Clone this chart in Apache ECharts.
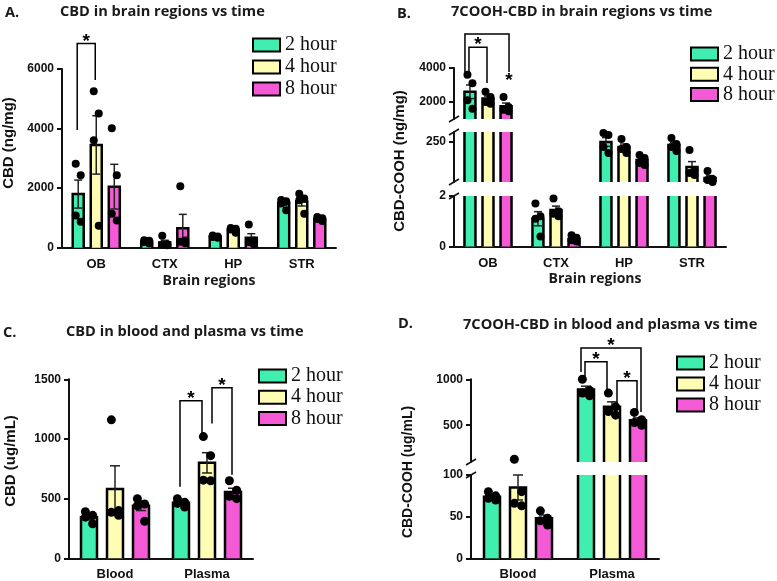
<!DOCTYPE html>
<html>
<head>
<meta charset="utf-8">
<script src="https://cdn.jsdelivr.net/npm/echarts@6/dist/echarts.min.js"></script>
<style>
  html, body { margin: 0; padding: 0; background: #fff; }
  #chart { width: 777px; height: 581px; }
</style>
</head>
<body>
<div id="chart"></div>
<script>
// ---- data ----
var times = ['2 hour', '4 hour', '8 hour'];
var regions = ['OB', 'CTX', 'HP', 'STR'];
var fluids = ['Blood', 'Plasma'];

// A. CBD in brain regions (ng/mg), [time][region]
var cbdBrainMean = [[1800, 200, 370, 1500], [3450, 175, 600, 1550], [2050, 650, 330, 950]];
var cbdBrainSem = [[470, 25, 20, 70], [980, 75, 40, 150], [750, 470, 140, 30]];
var cbdBrainPts = [
    [[2820, 2430, 1080, 870], [250, 230, 190, 140], [410, 380, 360, 330], [1600, 1560, 1480, 1260]],
    [[5250, 4510, 3610, 740], [400, 120, 100, 80], [660, 640, 610, 500], [1810, 1650, 1590, 1140]],
    [[4010, 2430, 1140, 910], [2060, 240, 200, 150], [780, 240, 190, 120], [1030, 990, 960, 900]]
];

// B. 7COOH-CBD in brain regions (ng/mg)
var coohBrainMean = [[2600, 1.1, 250, 235], [2200, 1.45, 225, 125], [1750, 0.3, 160, 70]];
var coohBrainSem = [[400, 0.28, 22, 14], [150, 0.15, 15, 27], [190, 0.06, 11, 12]];
var coohBrainPts = [
    [[3600, 3100, 2100, 1600], [1.7, 1.2, 1.1, 0.4], [295, 285, 225, 195], [270, 240, 225, 205]],
    [[2600, 2300, 2000, 1900], [1.9, 1.4, 1.3, 1.2], [265, 225, 215, 195], [210, 110, 95, 85]],
    [[2300, 1700, 1550, 1450], [0.45, 0.35, 0.25, 0.2], [185, 170, 145, 135], [105, 65, 60, 50]]
];

// C. CBD in blood and plasma (ug/mL), [time][fluid]
var cbdFluidMean = [[345, 465], [580, 800], [440, 555]];
var cbdFluidSem = [[22, 14], [195, 85], [40, 32]];
var cbdFluidPts = [
    [[390, 360, 345, 290], [500, 470, 460, 430]],
    [[1160, 400, 385, 360], [1020, 860, 655, 650]],
    [[500, 455, 440, 310], [650, 570, 520, 500]]
];

// D. 7COOH-CBD in blood and plasma (ug/mL)
var coohFluidMean = [[74, 890], [85, 700], [48, 555]];
var coohFluidSem = [[2.5, 35], [15, 55], [4, 25]];
var coohFluidPts = [
    [[80, 75, 72, 70], [1000, 880, 850, 820]],
    [[130, 80, 66, 63], [850, 700, 650, 610]],
    [[57, 48, 45, 40], [640, 560, 530, 500]]
];

// significance brackets: [category, fromTime, toTime, topValue, leftFootValue, rightFootValue]
var sigA = [[0, 0, 1, 6860, 3950, 5630]];
var sigB = [[0, 0, 2, 6000, 3770, 3770], [0, 0, 1, 5220, 3710, 3120]];
var sigC = [[1, 0, 1, 1320, 600, 1020], [1, 1, 2, 1430, 1130, 700]];
var sigD = [[1, 0, 2, 1340, 1080, 645], [1, 0, 1, 1190, 1030, 880], [1, 1, 2, 985, 740, 665]];

// ---- layout / styles ----
var colors = ['#40efb0', '#fffcb4', '#f55ad6'];
var JITTER = [-2.5, 2.5, -2.5, 2.5];
var AXIS = '#111';
var LABEL_FONT = 'Liberation Sans';
var SERIF = 'Liberation Serif';

var panels = [
    {
        cats: regions, mean: cbdBrainMean, sem: cbdBrainSem, pts: cbdBrainPts, sig: sigA,
        left: 62, width: 274, bw: 11, gap: 0.64, r: 4, cap: 4,
        segs: [{ top: 69, bottom: 247.7, min: 0, max: 6000, ticks: [0, 2000, 4000, 6000] }],
        xName: 'Brain regions', xNamePad: 20,
        legend: { left: 252, top: 35, step: 22 },
        yName: 'CBD (ng/mg)', yNameX: 9, yNameY: 143, yNameSize: 15
    },
    {
        cats: regions, mean: coohBrainMean, sem: coohBrainSem, pts: coohBrainPts, sig: sigB, endStar: [0],
        left: 454, width: 272, bw: 11, gap: 0.64, r: 4, cap: 4,
        segs: [
            { top: 68, bottom: 119, min: 1000, max: 4000, ticks: [2000, 4000] },
            { top: 132, bottom: 182, min: 50, max: 300, ticks: [250] },
            { top: 196, bottom: 246.5, min: 0, max: 2, ticks: [0, 2] }
        ],
        xName: 'Brain regions', xNamePad: 10,
        legend: { left: 690, top: 44, step: 20.3 },
        yName: 'CBD-COOH (ng/mg)', yNameX: 400, yNameY: 161, yNameSize: 15
    },
    {
        cats: fluids, mean: cbdFluidMean, sem: cbdFluidSem, pts: cbdFluidPts, sig: sigC,
        left: 69, width: 184, bw: 16, gap: 0.625, r: 4.5, cap: 5,
        segs: [{ top: 379.3, bottom: 558.3, min: 0, max: 1500, ticks: [0, 500, 1000, 1500] }],
        legend: { left: 258, top: 366, step: 21.2 },
        yName: 'CBD (ug/mL)', yNameX: 11, yNameY: 461, yNameSize: 15
    },
    {
        cats: fluids, mean: coohFluidMean, sem: coohFluidSem, pts: coohFluidPts, sig: sigD,
        left: 471, width: 188, bw: 16, gap: 0.625, r: 4.5, cap: 5,
        segs: [
            { top: 379.3, bottom: 462, min: 100, max: 1000, ticks: [500, 1000] },
            { top: 475, bottom: 558.3, min: 0, max: 100, ticks: [0, 50, 100] }
        ],
        legend: { left: 676, top: 353, step: 21 },
        yName: 'CBD-COOH (ug/mL)', yNameX: 408, yNameY: 472, yNameSize: 14
    }
];

var grids = [], xAxes = [], yAxes = [], series = [], legends = [], graphics = [];

function extrasRender(p, seg) {
    return function (params, api) {
        var c = api.value(0), t = api.value(1);
        var m = p.mean[t][c], s = p.sem[t][c], pts = p.pts[t][c];
        var step = p.bw * (1 + p.gap);
        var cx = api.coord([c, seg.min])[0] + (t - 1) * step;
        var hw = p.bw / 2;
        var y = function (v) { return api.coord([c, v])[1]; };
        var kids = [];
        var line = function (points, w, col) {
            kids.push({ type: 'polyline', shape: { points: points }, style: { stroke: col || '#000', lineWidth: w || 2.5, fill: null } });
        };
        if (m > seg.min) {
            var yb = y(Math.max(seg.min, 0)), yt = y(Math.min(seg.max, m));
            if (m <= seg.max) {
                line([[cx - hw, yb], [cx - hw, yt], [cx + hw, yt], [cx + hw, yb]]);
                var yhi = y(m + s), ylo = y(Math.max(m - s, seg.min));
                line([[cx, ylo], [cx, yhi]], 1.5, '#222');
                line([[cx - p.cap, yhi], [cx + p.cap, yhi]], 1.5, '#222');
                if (m - s >= seg.min) line([[cx - p.cap, ylo], [cx + p.cap, ylo]], 1.5, '#222');
            } else {
                line([[cx - hw, yb], [cx - hw, yt]]);
                line([[cx + hw, yb], [cx + hw, yt]]);
            }
        }
        pts.forEach(function (v, k) {
            if (v < seg.min || v > seg.max) return;
            kids.push({ type: 'circle', shape: { cx: cx + JITTER[k] * p.bw / 11, cy: y(v), r: p.r }, style: { fill: '#000' } });
        });
        return { type: 'group', children: kids };
    };
}

function sigRender(p) {
    return function (params, api) {
        var row = p.sig[params.dataIndex];
        var c = row[0], f = row[1], to = row[2];
        var step = p.bw * (1 + p.gap);
        var base = api.coord([c, row[3]])[0];
        var outer = to - f === 2;
        var sharedLeft = p.sig.some(function (o) { return o !== row && o[0] === c && o[2] === f; });
        var sharedRight = p.sig.some(function (o) { return o !== row && o[0] === c && o[1] === to; });
        var xl = base + (f - 1) * step + (outer ? -5 : (sharedLeft ? 5 : -1));
        var xr = base + (to - 1) * step + (outer ? 3 : (sharedRight ? -5 : -1));
        var yTop = api.coord([c, row[3]])[1];
        var yl = api.coord([c, row[4]])[1], yr = api.coord([c, row[5]])[1];
        var atEnd = (p.endStar || []).indexOf(params.dataIndex) >= 0;
        var sx = atEnd ? xr : (xl + xr) / 2;
        var sy = atEnd ? yr + 9 : yTop - 2;
        return {
            type: 'group',
            children: [
                { type: 'polyline', shape: { points: [[xl, yl], [xl, yTop], [xr, yTop], [xr, yr]] }, style: { stroke: '#000', lineWidth: 1.5, fill: null } },
                { type: 'text', x: sx, y: sy, style: { text: '*', fill: '#000', font: 'bold 19px ' + LABEL_FONT, align: 'center', verticalAlign: 'middle' } }
            ]
        };
    };
}

panels.forEach(function (p) {
    p.segs.forEach(function (seg, si) {
        var gi = grids.length;
        var isBottom = si === p.segs.length - 1;
        grids.push({ left: p.left, top: seg.top, width: p.width, height: seg.bottom - seg.top, outerBoundsMode: 'none', containLabel: false });
        xAxes.push({
            gridIndex: gi, type: 'category', data: p.cats, show: isBottom,
            axisLine: { lineStyle: { color: AXIS, width: 2 } },
            axisTick: { alignWithLabel: true, length: 5, lineStyle: { color: AXIS, width: 2 } },
            axisLabel: { margin: 10, fontSize: 13, fontWeight: 'bold', color: '#111', fontFamily: LABEL_FONT },
            name: isBottom ? p.xName : '', nameLocation: 'middle', nameGap: 26,
            nameTextStyle: { fontSize: 14, fontWeight: 'bold', fontFamily: 'Open Sans', color: '#1a1a1a', padding: [0, 0, 0, p.xNamePad || 0] }
        });
        yAxes.push({
            gridIndex: gi, type: 'value', min: seg.min, max: seg.max,
            axisLine: { show: true, lineStyle: { color: AXIS, width: 2 } },
            axisTick: { show: true, length: 5, lineStyle: { color: AXIS, width: 2 }, customValues: seg.ticks },
            axisLabel: {
                customValues: seg.ticks, margin: 8, fontSize: 12, fontWeight: 'bold', color: '#111', fontFamily: LABEL_FONT,
                formatter: function (v) { return String(v); }
            },
            splitLine: { show: false }
        });
        times.forEach(function (name, t) {
            series.push({
                type: 'bar', name: name, xAxisIndex: gi, yAxisIndex: gi,
                data: p.mean[t], barWidth: p.bw, barGap: (p.gap * 100) + '%',
                itemStyle: { color: colors[t] }, clip: true, silent: true
            });
        });
        var items = [];
        p.cats.forEach(function (c, ci) { times.forEach(function (n, t) { items.push([ci, t]); }); });
        series.push({
            type: 'custom', xAxisIndex: gi, yAxisIndex: gi, z: 5, clip: false, silent: true,
            renderItem: extrasRender(p, seg), data: items
        });
        if (si === 0) {
            series.push({
                type: 'custom', xAxisIndex: gi, yAxisIndex: gi, z: 6, clip: false, silent: true,
                renderItem: sigRender(p), data: p.sig
            });
        }
        // axis break marks
        if (si > 0) {
            [p.segs[si - 1].bottom, seg.top].forEach(function (yy) {
                graphics.push({ type: 'line', shape: { x1: p.left - 5, y1: yy + 3, x2: p.left + 5, y2: yy - 3 }, style: { stroke: AXIS, lineWidth: 1.5 } });
            });
        }
    });
    legends.push({
        orient: 'vertical', left: p.legend.left, top: p.legend.top, data: times, icon: 'rect',
        itemWidth: 27, itemHeight: 13, itemGap: p.legend.step - 20, selectedMode: false, padding: 0,
        itemStyle: { borderColor: '#000', borderWidth: 2 },
        textStyle: { fontFamily: SERIF, fontSize: 20, color: '#111' }
    });
    graphics.push({
        type: 'text', x: p.yNameX, y: p.yNameY, rotation: Math.PI / 2,
        style: { text: p.yName, fill: '#111', font: 'bold ' + p.yNameSize + 'px ' + LABEL_FONT, align: 'center', verticalAlign: 'middle' }
    });
});

var titleStyle = { fontSize: 14.6, fontWeight: 'bold', fontFamily: 'Open Sans', color: '#1a1a1a' };
var titles = [
    { text: 'A.', left: 5, top: 5 }, { text: 'CBD in brain regions vs time', left: 60, top: 4 },
    { text: 'B.', left: 397, top: 6 }, { text: '7COOH-CBD in brain regions vs time', left: 451, top: 4 },
    { text: 'C.', left: 3, top: 325 }, { text: 'CBD in blood and plasma vs time', left: 66, top: 324 },
    { text: 'D.', left: 398, top: 316 }, { text: '7COOH-CBD in blood and plasma vs time', left: 463, top: 317 }
].map(function (t) { t.padding = 0; t.textStyle = titleStyle; return t; });

var chart = echarts.init(document.getElementById('chart'));
chart.setOption({
    animation: false,
    backgroundColor: '#fff',
    title: titles,
    legend: legends,
    grid: grids,
    xAxis: xAxes,
    yAxis: yAxes,
    series: series,
    graphic: graphics
});
</script>
</body>
</html>
